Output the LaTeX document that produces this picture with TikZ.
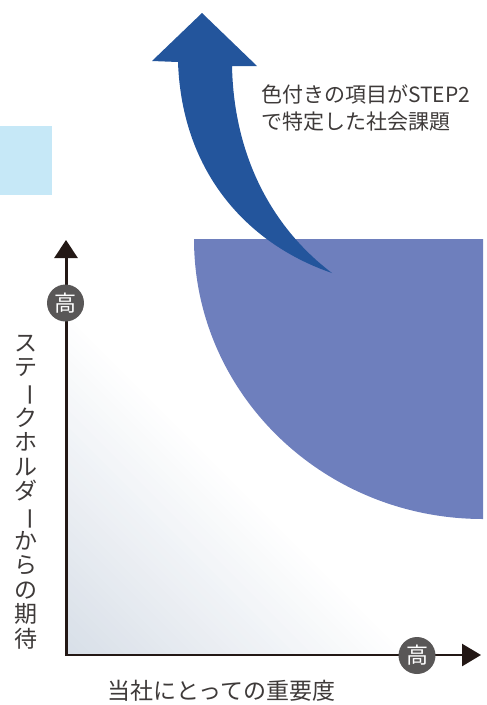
\documentclass[tikz,border=0pt]{standalone}
\usepackage{fontspec}
\setmainfont{Noto Sans CJK JP}
\usetikzlibrary{arrows.meta}
\definecolor{txt}{HTML}{3E3A39}
\definecolor{axis}{HTML}{231815}
\definecolor{lightblue}{HTML}{C6E8F7}
\definecolor{arrowblue}{HTML}{23559C}
\definecolor{zone}{HTML}{6E7FBD}
\definecolor{corner}{HTML}{D8DFE8}
\definecolor{circ}{HTML}{595757}
\tikzset{
  axisline/.style={draw=axis, line width=3pt, -{Triangle[length=18pt,width=23pt]}},
  hcircle/.style={circle, fill=circ, minimum size=37pt, inner sep=0pt, text=white,
    font=\fontsize{22}{22}\selectfont},
  label/.style={text=txt, inner sep=0pt, font=\fontsize{21}{27}\selectfont},
  axislabel/.style={text=txt, inner sep=0pt, font=\fontsize{23}{24.4}\selectfont}
}
\newcommand{\vbar}{\rotatebox[origin=c]{-90}{ー}}
\begin{document}
\begin{tikzpicture}[x=1pt,y=-1pt]
\useasboundingbox (0,0) rectangle (487,705);
% light blue tab
\fill[lightblue] (0,126) rectangle (52,195);
% gradient corner
\foreach \k in {40,39,...,1}{
  \pgfmathsetmacro\l{340*\k/40}
  \pgfmathtruncatemacro\p{100*(1-(\k-1)/40)}
  \fill[corner!\p!white] (66,655) -- (66,655-\l) -- (66+\l,655) -- cycle;
}
% zone
\fill[zone] (194,239) -- (483,239) -- (483,519)
  arc[start angle=90, end angle=180, x radius=289, y radius=280] -- cycle;
% big curved arrow
\coordinate (T) at (202,13);
\coordinate (LW) at (152,61);
\coordinate (LS) at (178,62);
\coordinate (RS) at (232,66);
\coordinate (RW) at (257,66);
\coordinate (P) at (332,273);
\fill[arrowblue] (LS) .. controls (182,175) and (250,245) .. (P)
  .. controls (275,230) and (234,160) .. (RS) -- (RW) -- (T) -- (LW) -- cycle;
% annotation
\node[label, anchor=west, align=left] (note) at (261,108.5)
  {色付きの項目がSTEP2\\で特定した社会課題};
% axes
\coordinate (O) at (66,655);
\coordinate (Ytop) at (66,240);
\coordinate (Xend) at (481,655);
\draw[axisline] (O) -- (Ytop);
\draw[axisline, line width=2.7pt, -{Triangle[length=19pt,width=22pt]}] (65,655) -- (Xend);
\node[hcircle] (hy) at (65.5,303) {高};
\node[hcircle] (hx) at (417,655.5) {高};
% axis labels
\node[axislabel, align=center] (ylab) at (26,492)
  {ス\\テ\\\vbar\\ク\\ホ\\ル\\ダ\\\vbar\\か\\ら\\の\\期\\待};
\node[axislabel] (xlab) at (221.5,690.5) {当社にとっての重要度};
\end{tikzpicture}
\end{document}
